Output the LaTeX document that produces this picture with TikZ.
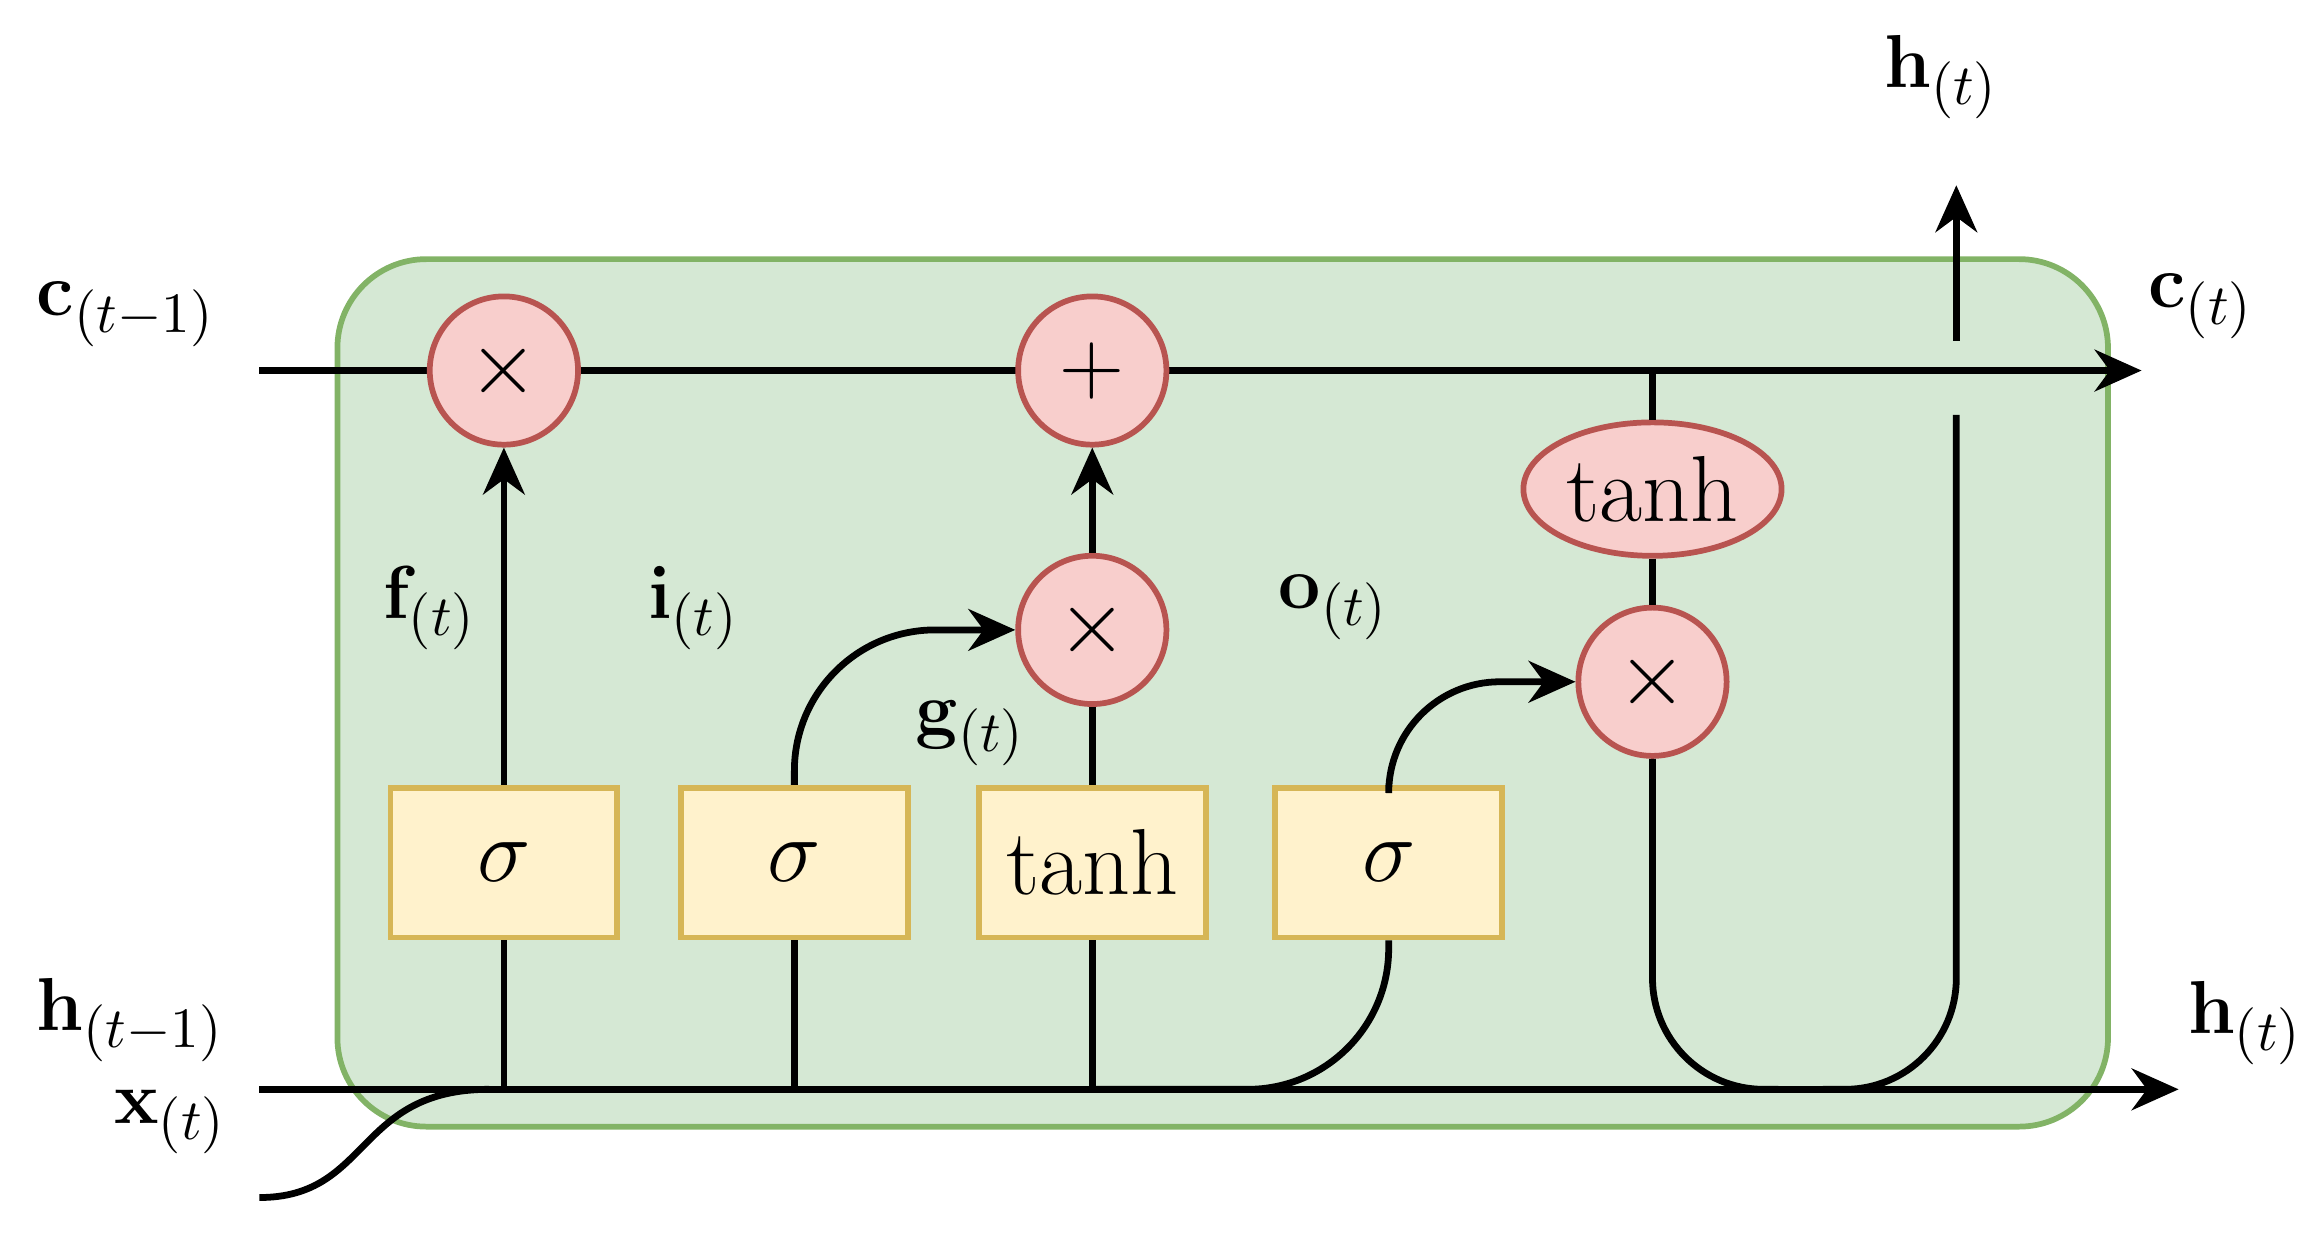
\documentclass[tikz,border=0pt]{standalone}
\usepackage{amsmath}
\usetikzlibrary{arrows.meta,shapes.geometric}
\definecolor{gf}{HTML}{D5E8D4}\definecolor{gs}{HTML}{82B366}
\definecolor{rf}{HTML}{F8CECC}\definecolor{rs}{HTML}{B85450}
\definecolor{yf}{HTML}{FFF2CC}\definecolor{ys}{HTML}{D6B656}
\begin{document}
\begin{tikzpicture}[x=0.01cm,y=-0.01cm,line width=1.3pt,
  op/.style={circle,draw=rs,fill=rf,minimum size=1cm,inner sep=0pt,font=\fontsize{18}{20}\selectfont,line width=1.1pt},
  gate/.style={rectangle,draw=ys,fill=yf,minimum width=1.53cm,minimum height=1.01cm,font=\fontsize{18}{20}\selectfont,line width=1.1pt},
  lbl/.style={font=\fontsize{15}{17}\selectfont},
  arr/.style={-{Stealth[length=9pt,width=8pt]}}]
\useasboundingbox (0,0) rectangle (1560,832);
\node[draw=gs,fill=gf,rounded corners=0.6cm,minimum width=11.94cm,minimum height=5.85cm,line width=1.1pt] (cell) at (825,467.5) {};
\coordinate (cin) at (175,250); \coordinate (cout) at (1445,250);
\coordinate (hin) at (175,735); \coordinate (hout) at (1470,735);
\coordinate (xin) at (175,808);
\draw[arr] (cin) -- (cout);
\draw[arr] (hin) -- (hout);
\draw (xin) .. controls (250,808) and (240,735) .. (330,735);
\node[op] (f) at (340,250) {$\times$};
\node[op] (p) at (737,250) {$+$};
\node[op] (m1) at (737,425) {$\times$};
\node[op] (m2) at (1115,460) {$\times$};
\node[ellipse,draw=rs,fill=rf,minimum width=1.5cm,minimum height=0.9cm,inner sep=1pt,font=\fontsize{18}{20}\selectfont,line width=1.1pt] (th) at (1115,330) {tanh};
\node[gate] (g1) at (340,582) {$\sigma$};
\node[gate] (g2) at (536,582) {$\sigma$};
\node[gate] (g3) at (737,582) {tanh};
\node[gate] (g4) at (937,582) {$\sigma$};
\coordinate (b1) at (340,735); \coordinate (b2) at (536,735); \coordinate (b3) at (737,735);
\draw (b1) -- (g1.south); \draw[arr] (g1.north) -- (f.south);
\draw (b2) -- (g2.south); \draw[arr,rounded corners=0.95cm] (g2.north) |- (m1.west);
\draw (b3) -- (g3.south); \draw (g3.north) -- (m1.south); \draw[arr] (m1.north) -- (p.south);
\draw[rounded corners=0.95cm] (b3) -| (g4.south);
\draw[arr,rounded corners=0.75cm] (g4.north) |- (m2.west);
\coordinate (ct) at (1115,250);
\draw (ct) -- (th.north); \draw (th.south) -- (m2.north);
\draw[rounded corners=0.75cm] (m2.south) |- (1200,735);
\coordinate (hup) at (1320,125);
\draw[rounded corners=0.75cm] (1230,735) -| (1320,280);
\draw[arr] (1320,230) -- (hup);
\node[lbl] at (85,212) {$\mathbf{c}_{(t-1)}$};
\node[lbl] at (1485,207) {$\mathbf{c}_{(t)}$};
\node[lbl] at (1310,52) {$\mathbf{h}_{(t)}$};
\node[lbl] at (88,688) {$\mathbf{h}_{(t-1)}$};
\node[lbl] at (115,757) {$\mathbf{x}_{(t)}$};
\node[lbl] at (1515,690) {$\mathbf{h}_{(t)}$};
\node[lbl] at (290,410) {$\mathbf{f}_{(t)}$};
\node[lbl] at (468,410) {$\mathbf{i}_{(t)}$};
\node[lbl] at (655,495) {$\mathbf{g}_{(t)}$};
\node[lbl] at (900,410) {$\mathbf{o}_{(t)}$};
\end{tikzpicture}
\end{document}
